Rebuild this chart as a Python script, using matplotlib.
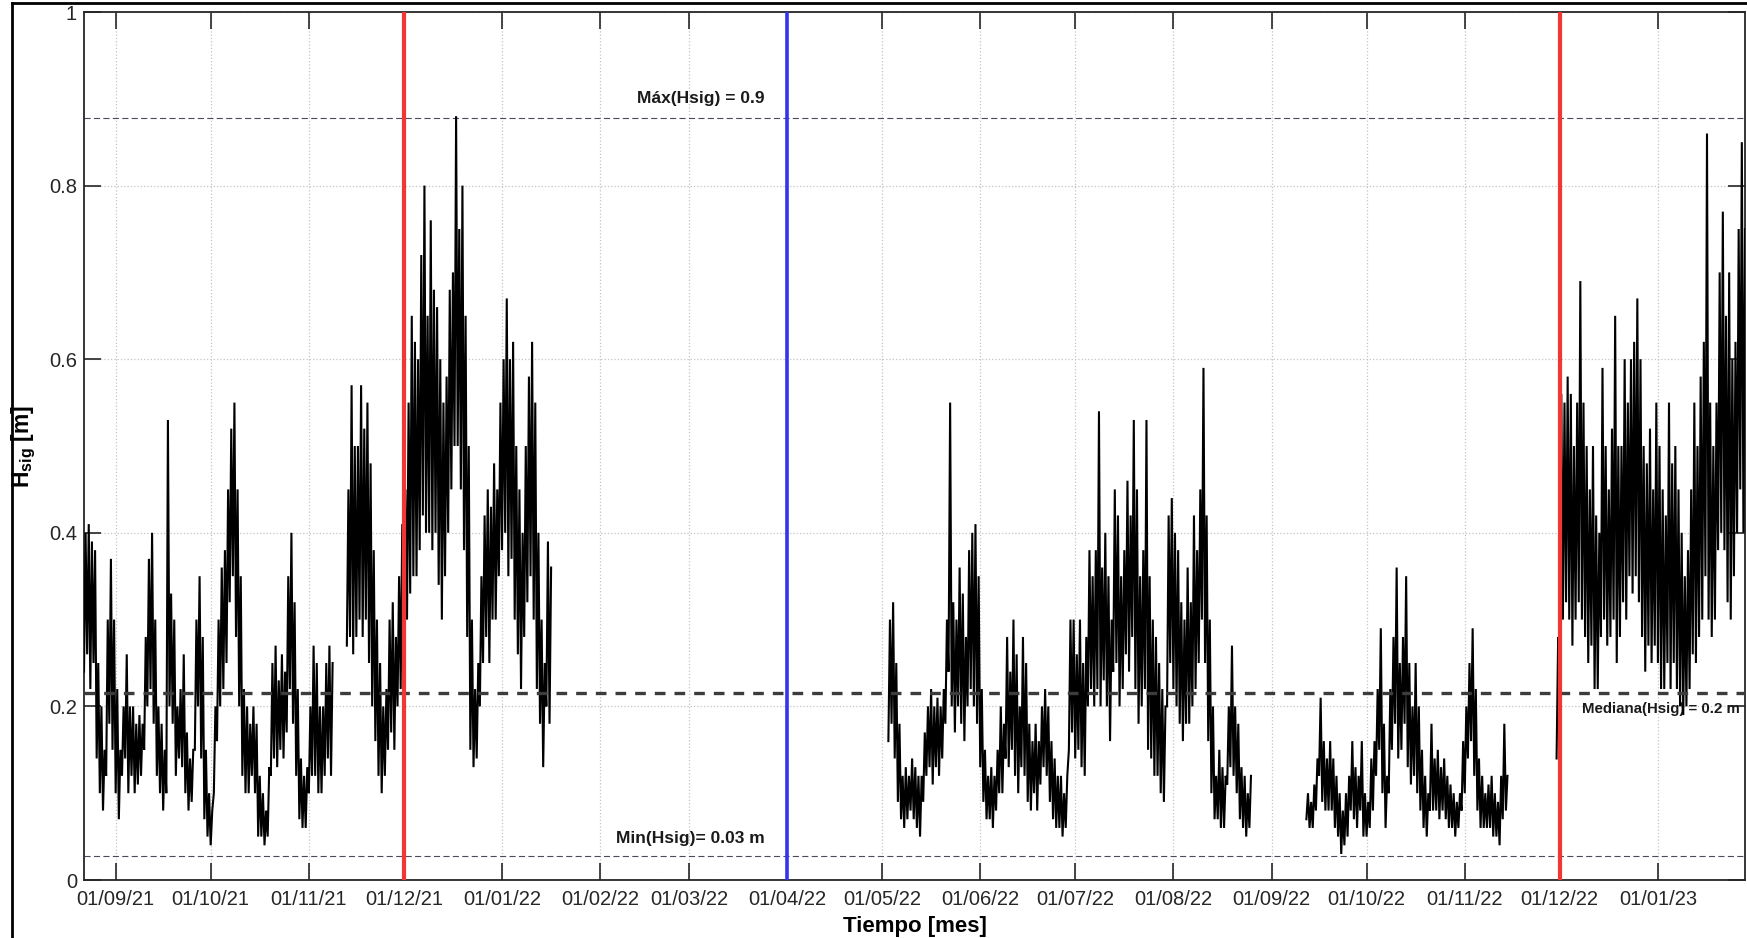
import numpy as np
import matplotlib
matplotlib.use('Agg')
import matplotlib.pyplot as plt
import matplotlib.dates as mdates
from matplotlib.lines import Line2D

nan = np.nan

# ---- data: daily low / high envelope of Hsig [m] ----
seg_starts = ['2021-08-22', '2022-05-03', '2022-09-12', '2022-11-30']

hi1 = [.40, .41, .39, .38, .25, .20, .15, .30, .37, .30,
       .22, .15, .20, .26, .20, .20, .18, .19, .18, .28,
       .37, .40, .30, .20, .18, .15, .53, .33, .30, .20,
       .22, .26, .17, .14, .15, .30, .35, .28, .15, .10,
       .08, .20, .30, .36, .38, .45, .52, .55, .45, .35,
       .22, .20, .18, .20, .18, .12, .10, .08, .13, .25,
       .27, .23, .26, .24, .35, .40, .32, .22, .14, .12,
       .13, .20, .27, .25, .20, .20, .25, .27, .25, nan,
       nan, nan, nan, .45, .57, .50, .50, .57, .52, .55,
       .48, .38, .30, .25, .20, .22, .30, .32, .28, .35,
       .41, .45, .55, .65, .62, .60, .72, .80, .65, .76,
       .68, .66, .60, .55, .58, .68, .70, .88, .75, .80,
       .65, .50, .30, .22, .25, .35, .42, .45, .43, .48,
       .45, .55, .60, .67, .60, .62, .50, .45, .40, .50,
       .58, .62, .55, .40, .30, .25, .39, .36]
lo1 = [.24, .26, .22, .25, .14, .10, .08, .12, .18, .15,
       .10, .07, .12, .14, .10, .12, .10, .11, .12, .15,
       .20, .22, .18, .12, .10, .08, .10, .20, .18, .12,
       .14, .13, .10, .08, .09, .15, .20, .14, .07, .05,
       .04, .10, .16, .20, .22, .25, .32, .35, .28, .20,
       .12, .10, .10, .12, .10, .05, .05, .04, .05, .12,
       .14, .13, .15, .14, .17, .22, .18, .12, .07, .06,
       .06, .10, .12, .12, .10, .10, .12, .14, .12, nan,
       nan, nan, nan, .27, .28, .26, .28, .30, .28, .30,
       .25, .20, .16, .12, .10, .12, .15, .17, .15, .20,
       .22, .25, .30, .33, .35, .35, .38, .42, .40, .40,
       .38, .40, .34, .30, .35, .40, .45, .50, .50, .45,
       .38, .28, .15, .13, .14, .20, .25, .28, .25, .30,
       .30, .35, .38, .40, .35, .37, .30, .26, .22, .28,
       .32, .35, .30, .22, .18, .13, .20, .18]

hi2 = [.30, .32, .25, .18, .12, .13, .12, .14, .13, .12,
       .12, .17, .20, .22, .20, .21, .20, .22, .30, .55,
       .32, .30, .36, .33, .28, .38, .40, .41, .35, .22,
       .15, .12, .13, .12, .15, .20, .18, .28, .24, .30,
       .26, .20, .28, .25, .18, .16, .18, .16, .20, .22,
       .20, .16, .14, .12, .12, .10, .12, .30, .30, .26,
       .30, .25, .28, .38, .35, .38, .54, .36, .40, .35,
       .30, .45, .42, .35, .38, .46, .42, .53, .45, .35,
       .38, .53, .35, .30, .28, .25, .22, .20, .42, .44,
       .40, .38, .32, .30, .36, .32, .42, .38, .45, .59,
       .42, .30, .20, .12, .15, .13, .12, .20, .27, .20,
       .18, .13, .12, .10, .12]
lo2 = [.16, .18, .14, .09, .07, .06, .07, .08, .07, .06,
       .05, .09, .12, .13, .11, .13, .12, .14, .18, .24,
       .20, .17, .20, .18, .16, .20, .22, .20, .18, .13,
       .09, .07, .07, .06, .08, .10, .10, .14, .13, .15,
       .12, .10, .13, .12, .09, .08, .10, .08, .11, .13,
       .12, .09, .07, .06, .06, .05, .06, .15, .17, .14,
       .15, .13, .12, .20, .22, .20, .22, .20, .23, .20,
       .16, .24, .25, .20, .22, .26, .24, .28, .22, .18,
       .20, .22, .15, .14, .12, .12, .10, .09, .20, .25,
       .22, .20, .18, .16, .18, .18, .20, .22, .25, .30,
       .25, .16, .10, .07, .07, .06, .06, .11, .13, .12,
       .10, .07, .06, .05, .06]

hi3 = [.10, .09, .11, .14, .21, .16, .14, .16, .14, .12,
       .10, .08, .10, .12, .16, .13, .12, .16, .10, .09,
       .14, .16, .22, .29, .18, .12, .22, .28, .36, .25,
       .28, .35, .25, .20, .25, .20, .15, .12, .10, .18,
       .14, .15, .13, .14, .12, .11, .10, .09, .10, .16,
       .20, .25, .29, .22, .14, .12, .10, .11, .12, .10,
       .09, .12, .18, .12]
lo3 = [.07, .06, .06, .08, .12, .09, .08, .08, .08, .06,
       .05, .03, .04, .05, .08, .07, .06, .08, .05, .05,
       .06, .08, .12, .15, .10, .06, .10, .15, .18, .14,
       .15, .18, .13, .11, .12, .10, .08, .06, .05, .08,
       .08, .08, .07, .08, .07, .06, .06, .05, .06, .08,
       .10, .14, .16, .12, .08, .06, .06, .06, .06, .05,
       .05, .04, .07, .08]

hi4 = [.28, .56, .55, .58, .56, .50, .55, .69, .55, .50,
       .45, .50, .42, .40, .59, .50, .45, .52, .65, .50,
       .50, .60, .55, .60, .62, .67, .60, .50, .48, .52,
       .45, .55, .50, .45, .42, .55, .48, .50, .45, .40,
       .35, .38, .45, .55, .50, .58, .62, .86, .55, .50,
       .55, .70, .77, .65, .70, .60, .62, .75, .85, .75]
lo4 = [.14, .25, .30, .32, .30, .27, .30, .32, .30, .28,
       .25, .27, .22, .22, .28, .30, .27, .28, .30, .25,
       .28, .32, .30, .35, .33, .35, .32, .28, .24, .27,
       .25, .27, .25, .22, .22, .25, .22, .25, .22, .20,
       .19, .20, .22, .26, .25, .28, .30, .35, .30, .28,
       .30, .38, .40, .38, .32, .30, .35, .40, .45, .40]

hsig_max = 0.878
hsig_median = 0.215
hsig_min = 0.028

red_dates = ['2021-12-01', '2022-12-01']
blue_dates = ['2022-04-01']

label_max = 'Máx(Hsig) = 0.9'
label_min = 'Min(Hsig)= 0.03 m'
label_med = 'Mediana(Hsig) = 0.2 m'
label_x_left = '2022-03-25'
label_x_right = '2023-01-27'

# ---- build the time series ----
segments = [(seg_starts[0], hi1, lo1), (seg_starts[1], hi2, lo2),
            (seg_starts[2], hi3, lo3), (seg_starts[3], hi4, lo4)]
t_all, y_all = [], []
for start, hi, lo in segments:
    d0 = np.datetime64(start + 'T00', 'h')
    for k, (h, l) in enumerate(zip(hi, lo)):
        t_all.append(d0 + np.timedelta64(24 * k, 'h'))
        y_all.append(l)
        t_all.append(d0 + np.timedelta64(24 * k + 12, 'h'))
        y_all.append(h)
    t_all.append(t_all[-1] + np.timedelta64(1, 'h'))
    y_all.append(nan)
t = np.array(t_all, dtype='datetime64[h]')
y = np.array(y_all, dtype=float)

plt.rcParams['font.family'] = ['Liberation Sans', 'DejaVu Sans']
plt.rcParams['mathtext.fontset'] = 'custom'
plt.rcParams['mathtext.rm'] = 'Liberation Sans'
plt.rcParams['mathtext.bf'] = 'Liberation Sans:bold'

W, H = 1747, 938
fig = plt.figure(figsize=(W / 100, H / 100), dpi=100)
ax = fig.add_axes([84 / W, 58 / H, (1745 - 84) / W, (880 - 12) / H])

ax.set_axisbelow(True)
ax.grid(True, linestyle=':', color='#c4c4c4', linewidth=0.9)

ax.plot(t, y, color='black', linewidth=1.5, solid_joinstyle='miter', zorder=3)

ax.axhline(hsig_max, color='#4a4a5a', linewidth=0.8, linestyle=(0, (5.5, 3)), zorder=2)
ax.axhline(hsig_min, color='#4a4a5a', linewidth=0.8, linestyle=(0, (5.5, 3)), zorder=2)
ax.axhline(hsig_median, color='#3c3c3c', linewidth=2.4, linestyle=(0, (3.2, 2.7)), zorder=4)

for d in red_dates:
    ax.axvline(np.datetime64(d), color='#f23535', linewidth=3.0, zorder=5)
for d in blue_dates:
    ax.axvline(np.datetime64(d), color='#3434f0', linewidth=2.6, zorder=5)

ax.text(np.datetime64(label_x_left), 0.9, label_max, ha='right', va='center',
        fontsize=12.5, fontweight='bold', color='#1a1a1a', zorder=6)
ax.text(np.datetime64(label_x_left), 0.048, label_min, ha='right', va='center',
        fontsize=12.5, fontweight='bold', color='#1a1a1a', zorder=6)
ax.text(np.datetime64(label_x_right), 0.197, label_med, ha='right', va='center',
        fontsize=10.8, fontweight='bold', color='#1a1a1a', zorder=2)

ax.set_xlim(t[0], t[-2])
ax.set_ylim(0, 1)
ax.set_yticks([0, 0.2, 0.4, 0.6, 0.8, 1])
ax.set_yticklabels(['0', '0.2', '0.4', '0.6', '0.8', '1'])
ax.xaxis.set_major_locator(mdates.MonthLocator())
ax.xaxis.set_major_formatter(mdates.DateFormatter('%d/%m/%y'))

ax.tick_params(axis='both', direction='in', length=12, width=1.2, color='#262626',
               top=True, right=True, labelsize=14.5, labelcolor='#262626')
ax.tick_params(axis='x', pad=7)
ax.tick_params(axis='y', pad=5)
for s in ax.spines.values():
    s.set_linewidth(1.3)
    s.set_color('#262626')

ax.set_xlabel('Tiempo [mes]', fontsize=16, fontweight='bold', labelpad=5)
ax.set_ylabel(r'$\mathbf{H_{sig}}$ [m]', fontsize=16.5, fontweight='bold', labelpad=8)

# outer frame of the screenshot
fig.add_artist(Line2D([11.5 / W, 11.5 / W], [0, 1 - 3.5 / H], transform=fig.transFigure,
                      color='black', linewidth=2))
fig.add_artist(Line2D([11.5 / W, 1], [1 - 3.5 / H, 1 - 3.5 / H], transform=fig.transFigure,
                      color='black', linewidth=2))

fig.savefig('out.png', dpi=100)
